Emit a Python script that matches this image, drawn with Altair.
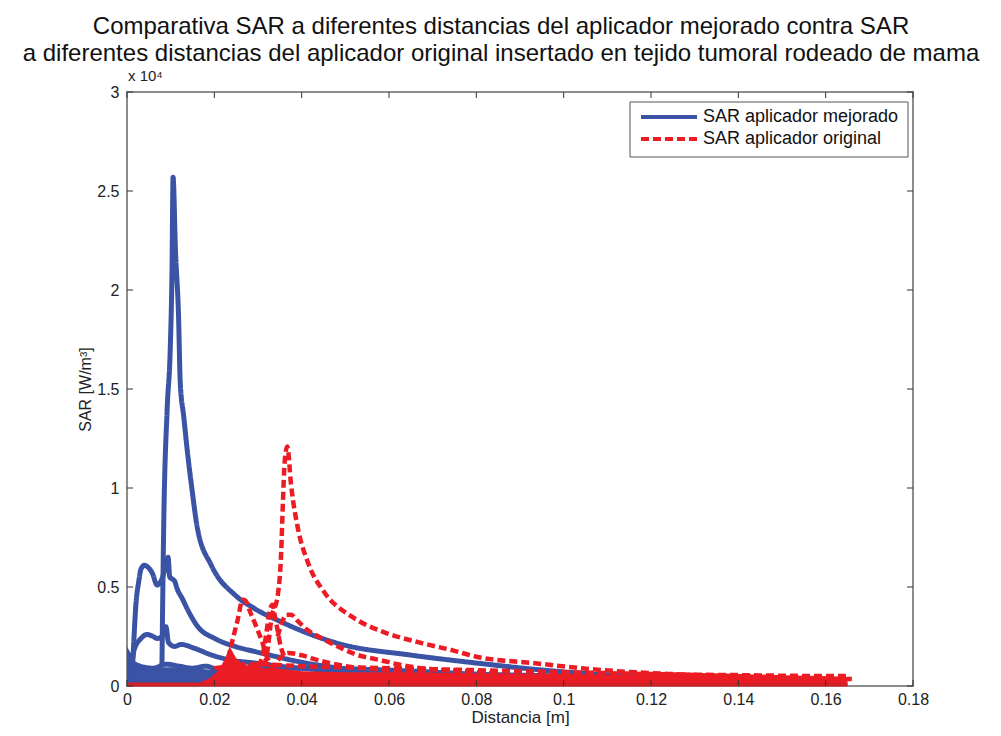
import altair as alt
import pandas as pd

S_MEJ = "SAR aplicador mejorado"
S_ORI = "SAR aplicador original"
BLUE = "#3a53a4"
RED = "#ec1c24"

# ---- blue traces (SAR aplicador mejorado), y in units of 1e4 W/m^3 ----
blue_a_x = [0.0080, 0.0084, 0.0092, 0.0099, 0.0103, 0.01055, 0.0111, 0.0118, 0.0122, 0.0130, 0.0138, 0.0149, 0.0161,
            0.0193, 0.0247, 0.0293, 0.0357, 0.0434, 0.0492, 0.0647, 0.0800, 0.0954, 0.1085, 0.1240, 0.1457]
blue_a_y = [0.10, 0.80, 1.40, 1.70, 2.09, 2.57, 2.20, 1.87, 1.53, 1.36, 1.19, 0.99, 0.80,
            0.61, 0.46, 0.39, 0.32, 0.25, 0.21, 0.157, 0.116, 0.080, 0.058, 0.045, 0.030]

blue_b_x = [0.0010, 0.0015, 0.0020, 0.0027, 0.0032, 0.0040, 0.0048, 0.0058, 0.0069, 0.0078, 0.0088, 0.0094, 0.0098,
            0.0104, 0.0109, 0.0115, 0.0127, 0.0139, 0.0162, 0.0201, 0.0247, 0.0293, 0.0310, 0.0400, 0.0527, 0.0650, 0.0800]
blue_b_y = [0.00, 0.20, 0.40, 0.53, 0.59, 0.61, 0.60, 0.57, 0.51, 0.53, 0.60, 0.65, 0.55,
            0.54, 0.53, 0.49, 0.44, 0.385, 0.30, 0.24, 0.20, 0.174, 0.165, 0.12, 0.08, 0.06, 0.04]

blue_c_x = [0.0008, 0.0016, 0.0032, 0.0046, 0.0060, 0.0069, 0.0080, 0.0089, 0.0095, 0.0109, 0.0124, 0.0155, 0.0193,
            0.0240, 0.0293, 0.0350, 0.0450, 0.0600]
blue_c_y = [0.00, 0.18, 0.24, 0.26, 0.25, 0.24, 0.25, 0.30, 0.22, 0.20, 0.21, 0.19, 0.157,
            0.13, 0.116, 0.10, 0.08, 0.06]

blue_d_x = [0.0010, 0.0030, 0.0060, 0.0090, 0.0120, 0.0150, 0.0180, 0.0210, 0.0250, 0.0300]
blue_d_y = [0.12, 0.10, 0.09, 0.11, 0.10, 0.09, 0.10, 0.08, 0.07, 0.06]

blue_e_x = [0.020, 0.040, 0.060, 0.080, 0.100, 0.120, 0.145]
blue_e_y = [0.08, 0.09, 0.08, 0.06, 0.05, 0.04, 0.03]

blue_mass_x = [0.0, 0.001, 0.002, 0.004, 0.008, 0.012, 0.016, 0.020, 0.024, 0.028, 0.032]
blue_mass_y = [0.20, 0.16, 0.12, 0.10, 0.095, 0.095, 0.09, 0.08, 0.06, 0.04, 0.0]

# ---- red traces (SAR aplicador original) ----
red_a_x = [0.0300, 0.0314, 0.0323, 0.0330, 0.0346, 0.0353, 0.0357, 0.0361, 0.0367, 0.0376, 0.0392, 0.0415,
           0.0453, 0.0515, 0.0591, 0.0669, 0.0746, 0.0800, 0.0930, 0.1085, 0.1240, 0.1440, 0.1660]
red_a_y = [0.05, 0.097, 0.20, 0.33, 0.47, 0.67, 0.925, 1.13, 1.21, 1.01, 0.79, 0.62,
           0.47, 0.35, 0.27, 0.22, 0.18, 0.148, 0.116, 0.081, 0.061, 0.047, 0.035]

red_b_x = [0.0210, 0.0228, 0.0238, 0.0245, 0.0253, 0.0265, 0.0272, 0.0280, 0.0296, 0.0310, 0.0320, 0.0335]
red_b_y = [0.03, 0.10, 0.20, 0.26, 0.33, 0.435, 0.43, 0.385, 0.30, 0.22, 0.15, 0.10]

red_c_x = [0.0300, 0.0310, 0.0318, 0.0326, 0.0333, 0.0338, 0.0345, 0.0352, 0.0360]
red_c_y = [0.10, 0.15, 0.25, 0.37, 0.41, 0.36, 0.28, 0.20, 0.15]

red_d_x = [0.0345, 0.0355, 0.0365, 0.0376, 0.0390, 0.0415, 0.0438, 0.0492, 0.0515, 0.0591, 0.0607, 0.0720, 0.0746, 0.0850]
red_d_y = [0.25, 0.32, 0.36, 0.36, 0.33, 0.28, 0.25, 0.19, 0.167, 0.125, 0.116, 0.081, 0.078, 0.060]

red_e_x = [0.0330, 0.0350, 0.0369, 0.0400, 0.0438, 0.0500, 0.0600, 0.0700]
red_e_y = [0.08, 0.14, 0.167, 0.155, 0.13, 0.10, 0.08, 0.06]

red_f_x = [0.020, 0.030, 0.040, 0.050, 0.060, 0.070, 0.080, 0.090, 0.100, 0.110, 0.120, 0.130, 0.140, 0.150, 0.165]
red_f_y = [0.09, 0.11, 0.10, 0.095, 0.09, 0.085, 0.08, 0.075, 0.07, 0.065, 0.06, 0.057, 0.055, 0.052, 0.05]

red_mass_x = [0.012, 0.016, 0.019, 0.021, 0.0225, 0.0235, 0.025, 0.027, 0.029, 0.031, 0.034, 0.040, 0.050,
              0.060, 0.080, 0.100, 0.120, 0.140, 0.165]
red_mass_y = [0.0, 0.01, 0.04, 0.08, 0.14, 0.20, 0.14, 0.10, 0.12, 0.09, 0.09, 0.075, 0.07,
              0.07, 0.065, 0.06, 0.055, 0.05, 0.045]

red_base_x = [0.0, 0.165]
red_base_y = [0.008, 0.008]

x_ticks = [0, 0.02, 0.04, 0.06, 0.08, 0.1, 0.12, 0.14, 0.16, 0.18]
y_ticks = [0, 0.5, 1, 1.5, 2, 2.5, 3]

legend_labels = [S_MEJ, S_ORI]

title_lines = ["Comparativa SAR a diferentes distancias del aplicador mejorado contra SAR",
               "a diferentes distancias del aplicador original insertado en tejido tumoral rodeado de mama"]


def traces(series, pairs):
    rows = []
    for name, xs, ys in pairs:
        for xv, yv in zip(xs, ys):
            rows.append({"x": xv, "y": yv, "series": series, "trace": name})
    return pd.DataFrame(rows)


blue_df = traces(S_MEJ, [("a", blue_a_x, blue_a_y), ("b", blue_b_x, blue_b_y), ("c", blue_c_x, blue_c_y),
                         ("d", blue_d_x, blue_d_y), ("e", blue_e_x, blue_e_y)])
red_df = traces(S_ORI, [("f", red_f_x, red_f_y), ("e", red_e_x, red_e_y), ("d", red_d_x, red_d_y),
                        ("c", red_c_x, red_c_y), ("b", red_b_x, red_b_y), ("a", red_a_x, red_a_y)])
blue_mass = pd.DataFrame({"x": blue_mass_x, "y": blue_mass_y})
red_mass = pd.DataFrame({"x": red_mass_x, "y": red_mass_y})
red_base = pd.DataFrame({"x": red_base_x, "y": red_base_y})

W, H = 786, 594
FONT = "Liberation Sans"

xs = alt.Scale(domain=[0, 0.18], nice=False, zero=False)
ys = alt.Scale(domain=[0, 3], nice=False, zero=False)
xaxis = alt.Axis(values=x_ticks, format="~g", title="Distancia [m]", grid=False, domain=False, ticks=False,
                 labelFontSize=16, titleFontSize=17, labelFont=FONT, titleFont=FONT, labelColor="#222",
                 titleColor="#222", titleFontWeight="normal", labelPadding=5, titlePadding=2, labelFlush=False)
yaxis = alt.Axis(values=y_ticks, format="~g", title="SAR [W/m³]", grid=False, domain=False, ticks=False,
                 labelFontSize=16, titleFontSize=16, labelFont=FONT, titleFont=FONT, labelColor="#222",
                 titleColor="#222", titleFontWeight="normal", labelPadding=8, titlePadding=3, labelFlush=False)
X = alt.X("x:Q", scale=xs, axis=xaxis)
Y = alt.Y("y:Q", scale=ys, axis=yaxis)

color = alt.Color("series:N", scale=alt.Scale(domain=[S_MEJ, S_ORI], range=[BLUE, RED]), legend=None)
dash = alt.StrokeDash("series:N", scale=alt.Scale(domain=[S_MEJ, S_ORI], range=[[1, 0], [8, 4]]), legend=None)

blue_area = alt.Chart(blue_mass).mark_area(color=BLUE).encode(x=X, y=Y)
blue_lines = alt.Chart(blue_df).mark_line(strokeWidth=5, strokeCap="butt", strokeJoin="round",
                                          interpolate="monotone").encode(
    x=X, y=Y, color=color, strokeDash=dash, detail="trace:N", order=alt.Order("x:Q"))
red_area = alt.Chart(red_mass).mark_area(color=RED).encode(x=X, y=Y)
red_bottom = alt.Chart(red_base).mark_line(color="#d42027", strokeWidth=4).encode(x=X, y=Y)
red_lines = alt.Chart(red_df).mark_line(strokeWidth=4.5, strokeCap="butt", strokeJoin="miter",
                                        interpolate="monotone").encode(
    x=X, y=Y, color=color, strokeDash=dash, detail="trace:N", order=alt.Order("x:Q"))

xt = pd.DataFrame({"x": x_ticks})
yt = pd.DataFrame({"y": y_ticks})
TICK = "#333"
xt_bot = alt.Chart(xt).mark_rule(color=TICK, strokeWidth=1).encode(x=X, y=alt.value(H), y2=alt.value(H - 6))
xt_top = alt.Chart(xt).mark_rule(color=TICK, strokeWidth=1).encode(x=X, y=alt.value(0), y2=alt.value(6))
yt_left = alt.Chart(yt).mark_rule(color=TICK, strokeWidth=1).encode(y=Y, x=alt.value(0), x2=alt.value(6))
yt_right = alt.Chart(yt).mark_rule(color=TICK, strokeWidth=1).encode(y=Y, x=alt.value(W), x2=alt.value(W - 6))

exp_label = alt.Chart(pd.DataFrame({"t": ["x 10⁴"]})).mark_text(
    align="left", baseline="middle", fontSize=15, font=FONT, color="#222").encode(
    text="t:N", x=alt.value(1), y=alt.value(-16))

# ---- legend box (drawn as marks) ----
LX0, LX1, LY0, LY1 = 503, 781, 10, 65
leg_box = alt.Chart(pd.DataFrame({"k": [0]})).mark_rect(fill="white", stroke="#555", strokeWidth=1).encode(
    x=alt.value(LX0), x2=alt.value(LX1), y=alt.value(LY0), y2=alt.value(LY1))
leg_blue = alt.Chart(pd.DataFrame({"k": [0]})).mark_rule(color=BLUE, strokeWidth=4).encode(
    x=alt.value(514), x2=alt.value(570), y=alt.value(25))
leg_red = alt.Chart(pd.DataFrame({"k": [0]})).mark_rule(color=RED, strokeWidth=4, strokeDash=[8, 4]).encode(
    x=alt.value(514), x2=alt.value(570), y=alt.value(47))
leg_t1 = alt.Chart(pd.DataFrame({"t": [legend_labels[0]]})).mark_text(
    align="left", baseline="middle", fontSize=18, font=FONT, color="#111").encode(
    text="t:N", x=alt.value(576), y=alt.value(25))
leg_t2 = alt.Chart(pd.DataFrame({"t": [legend_labels[1]]})).mark_text(
    align="left", baseline="middle", fontSize=18, font=FONT, color="#111").encode(
    text="t:N", x=alt.value(576), y=alt.value(47))

chart = alt.layer(blue_area, blue_lines, red_area, red_bottom, red_lines,
                  xt_bot, xt_top, yt_left, yt_right, exp_label,
                  leg_box, leg_blue, leg_red, leg_t1, leg_t2).properties(
    width=W, height=H,
    autosize=alt.AutoSizeParams(type="none"),
    padding={"left": 119, "top": 84, "right": 80, "bottom": 42},
    title=alt.TitleParams(text=title_lines, fontSize=24, font=FONT, fontWeight="normal", color="#111",
                          anchor="middle", lineHeight=27, offset=3, dx=-19),
    background="white",
).configure_view(stroke="#8c8c8c", strokeWidth=2)

chart.save("out.html", embed_options={"renderer": "svg", "actions": False})
